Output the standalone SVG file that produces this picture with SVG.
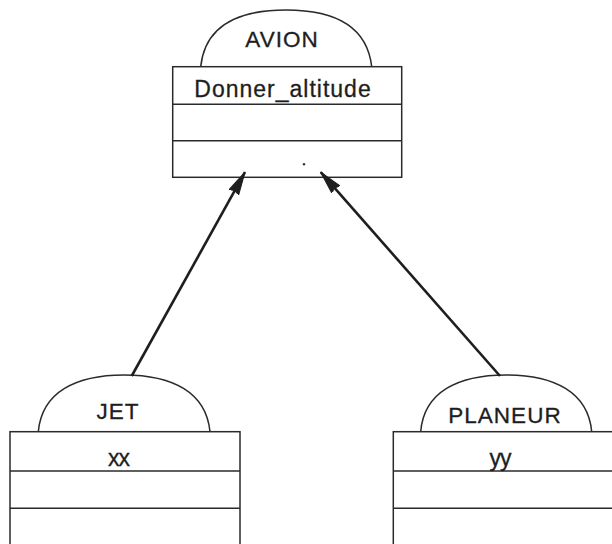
<svg xmlns="http://www.w3.org/2000/svg" width="612" height="544" viewBox="0 0 612 544">
  <defs>
    <style>
      .box { fill: none; stroke: #2a2a2a; stroke-width: 1.5; }
      .dome { fill: none; stroke: #2a2a2a; stroke-width: 1.5; }
      .name { font-family: "Liberation Sans", Arial, sans-serif; font-size: 22.5px; fill: #1e1e1e; text-anchor: middle; letter-spacing: 1px; stroke: #1e1e1e; stroke-width: 0.3; }
      .attr { font-family: "Liberation Sans", Arial, sans-serif; font-size: 23px; fill: #1e1e1e; text-anchor: middle; letter-spacing: 1px; stroke: #1e1e1e; stroke-width: 0.3; }
      .link { fill: none; stroke: #1e1e1e; stroke-width: 2.6; }
    </style>
    <marker id="head" markerUnits="userSpaceOnUse" markerWidth="26" markerHeight="14" refX="23" refY="7" orient="auto">
      <path d="M0 1.5 L23 7 L0 12.5 L2 7 Z" fill="#1e1e1e" stroke="#1e1e1e" stroke-width="1" stroke-linejoin="round"/>
    </marker>
  </defs>
  <rect width="612" height="544" fill="#ffffff"/>

  <g id="avion">
    <path class="dome" d="M200.7 66.7 C205 26 238 10 286 10 C334 10 367 26 371.7 66.7"/>
    <text class="name" x="282" y="47">AVION</text>
    <rect class="box" x="172.7" y="66.7" width="229" height="110.6"/>
    <line class="box" x1="172.7" y1="104.3" x2="401.7" y2="104.3"/>
    <line class="box" x1="172.7" y1="140.7" x2="401.7" y2="140.7"/>
    <text class="attr" x="283" y="97">Donner_altitude</text>
    <circle cx="304" cy="164.3" r="1.2" fill="#333"/>
  </g>

  <g id="jet">
    <path class="dome" d="M38.3 431.7 C42 392 76 375 124 375 C172 375 206 392 210 431.7"/>
    <text class="name" x="118" y="419">JET</text>
    <rect class="box" x="10" y="431.7" width="230" height="130"/>
    <line class="box" x1="10" y1="471" x2="240" y2="471"/>
    <line class="box" x1="10" y1="508.3" x2="240" y2="508.3"/>
    <text class="attr" x="118.5" y="466" style="letter-spacing:-1px">xx</text>
  </g>

  <g id="planeur">
    <path class="dome" d="M420.7 431.7 C424 392 458 375 506 375 C554 375 588 392 591.7 431.7"/>
    <text class="name" x="505" y="423">PLANEUR</text>
    <rect class="box" x="393.3" y="431.7" width="230" height="130"/>
    <line class="box" x1="393.3" y1="471" x2="623.3" y2="471"/>
    <line class="box" x1="393.3" y1="508.3" x2="623.3" y2="508.3"/>
    <text class="attr" x="500" y="466" style="letter-spacing:-1px">yy</text>
  </g>

  <g id="connectors">
    <line class="link" x1="131.7" y1="376" x2="245" y2="172.2" marker-end="url(#head)"/>
    <line class="link" x1="500" y1="376" x2="320.7" y2="172.2" marker-end="url(#head)"/>
  </g>
</svg>
